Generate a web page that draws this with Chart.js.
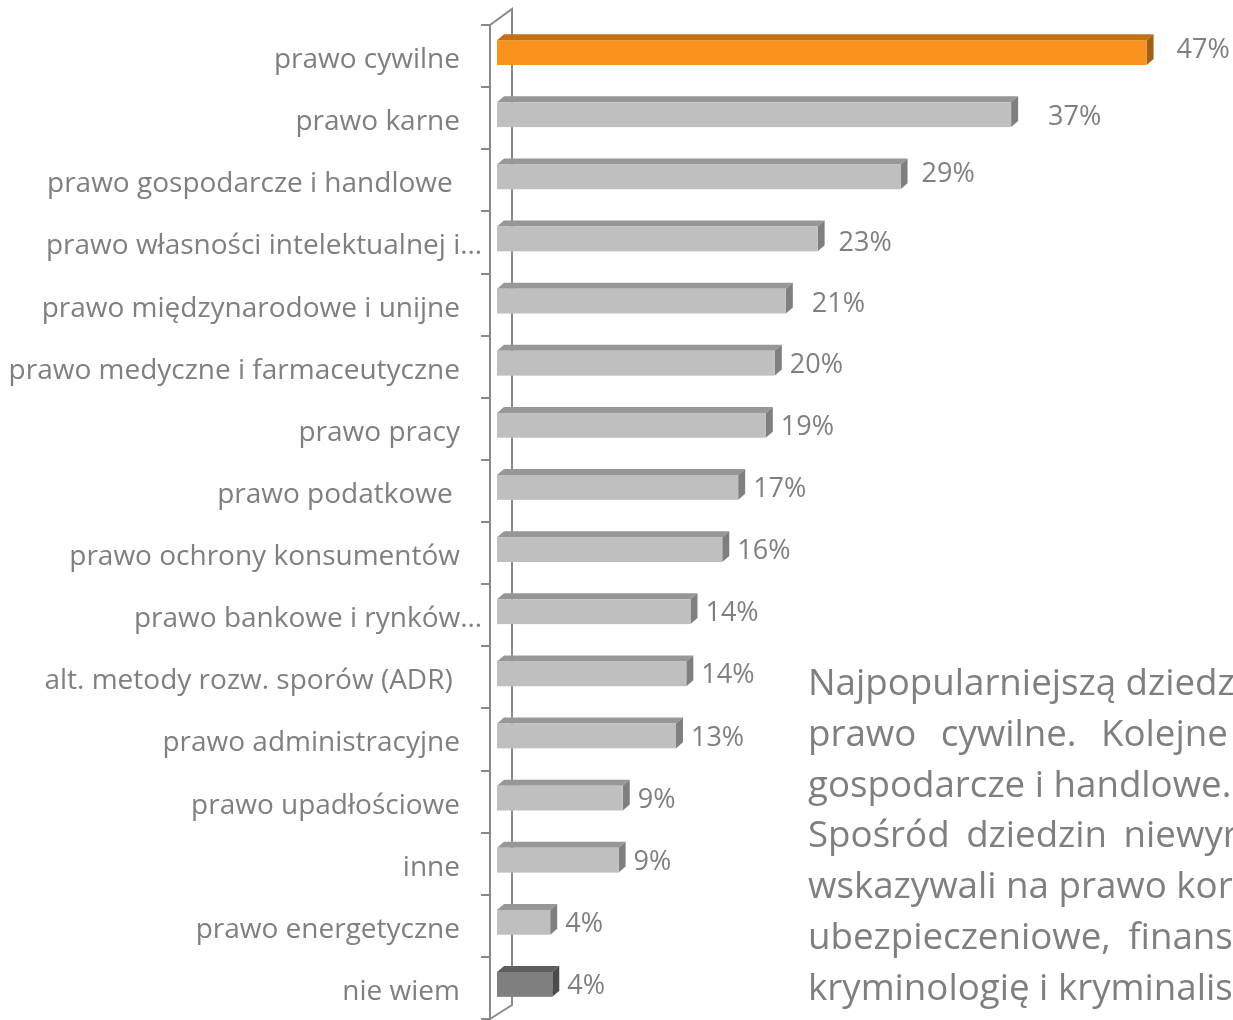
<!DOCTYPE html>
<html lang="pl">
<head>
<meta charset="utf-8">
<title>Dziedziny prawa</title>
<script src="https://cdn.jsdelivr.net/npm/chart.js@4.4.1/dist/chart.umd.min.js"></script>
<style>
  html, body { margin: 0; padding: 0; background: #fff; }
  #wrap { position: relative; width: 1233px; height: 1020px; overflow: hidden; }
  #chart { position: absolute; left: 0; top: 0; }
  #note {
    position: absolute; left: 808px; top: 656px;
    font-family: "Open Sans", sans-serif; font-size: 36.7px; line-height: 50.8px;
    color: #7f7f7f; white-space: pre;
  }
</style>
</head>
<body>
<div id="wrap">
  <canvas id="chart" width="1233" height="1020"></canvas>
  <div id="note"></div>
</div>
<script>
const categories = [
  "prawo cywilne",
  "prawo karne",
  "prawo gospodarcze i handlowe ",
  "prawo własności intelektualnej i…",
  "prawo międzynarodowe i unijne",
  "prawo medyczne i farmaceutyczne",
  "prawo pracy",
  "prawo podatkowe ",
  "prawo ochrony konsumentów",
  "prawo bankowe i rynków…",
  "alt. metody rozw. sporów (ADR) ",
  "prawo administracyjne",
  "prawo upadłościowe",
  "inne",
  "prawo energetyczne",
  "nie wiem"
];
const values = [47, 37.2, 29.2, 23.2, 20.9, 20.1, 19.45, 17.45, 16.3, 14.0, 13.7, 12.95, 9.1, 8.8, 3.85, 4.0];

// visible part of the text box on the right (it is cut by the page edge)
const noteLines = [
  "Najpopularniejszą dziedz",
  "prawo cywilne. Kolejne",
  "gospodarcze i handlowe.",
  "Spośród dziedzin niewyr",
  "wskazywali na prawo kor",
  "ubezpieczeniowe, finans",
  "kryminologię i kryminalis"
];
const noteWordSpacing = [0, 15, 0, 7, 0, 8, 0];

// hand-moved data labels in the original
const labelNudgeX = [15, 22, 6, 6, 11, 0, 0, 0, 0, 0, 0, 0, 0, 0, 0, 0];
const labelNudgeY = [-4, 1, -4.5, 2, 1, 0, 0, 0, 0, 0, 0, 0, 0, 0, 0, 0];

const textColor = "#7f7f7f";
const axisColor = "#8a8a8a";
const faces = {
  gray:   { front: "#bfbfbf", top: "#979797", side: "#7f7f7f" },
  orange: { front: "#f7931e", top: "#c27119", side: "#a35f12" },
  dark:   { front: "#7f7f7f", top: "#5e5e5e", side: "#4b4b4b" }
};
const barFaces = (i) => i === 0 ? faces.orange : (i === categories.length - 1 ? faces.dark : faces.gray);

const SHIFT_X = 7, SHIFT_Y = -3.5;  // bars stand a bit behind the front plane
const DEPTH_X = 7, DEPTH_Y = -6;    // bar depth

const note = document.getElementById("note");
noteLines.forEach((line, i) => {
  const div = document.createElement("div");
  div.textContent = line;
  div.style.wordSpacing = noteWordSpacing[i] + "px";
  note.appendChild(div);
});

function poly(ctx, pts) {
  ctx.beginPath();
  ctx.moveTo(pts[0][0], pts[0][1]);
  for (let k = 1; k < pts.length; k++) ctx.lineTo(pts[k][0], pts[k][1]);
  ctx.closePath();
  ctx.fill();
}

const frame3d = {
  id: "frame3d",
  beforeDraw(chart) {
    // labels sit a little lower; truncated ones sit closer to the axis
    chart.scales.y.getLabelItems().forEach((item, i) => {
      if (item._moved) return;
      item.options.translation[1] += 4;
      if (categories[i].endsWith("…")) item.options.translation[0] += 22;
      item._moved = true;
    });
  },
  beforeDatasetsDraw(chart) {
    const ctx = chart.ctx, a = chart.chartArea;
    ctx.save();
    ctx.strokeStyle = axisColor;
    ctx.lineWidth = 2;
    ctx.beginPath();
    ctx.moveTo(a.left, a.top);
    ctx.lineTo(a.left + 22, a.top - 16);
    ctx.lineTo(a.left + 22, a.bottom - 14);
    ctx.lineTo(a.left, a.bottom);
    ctx.stroke();
    ctx.restore();
  },
  afterDatasetsDraw(chart) {
    const ctx = chart.ctx;
    const meta = chart.getDatasetMeta(0);
    ctx.save();
    meta.data.forEach((bar, i) => {
      const p = bar.getProps(["x", "y", "base", "height"], true);
      const left = p.base + SHIFT_X, right = p.x + SHIFT_X;
      const top = p.y - p.height / 2 + SHIFT_Y, bottom = p.y + p.height / 2 + SHIFT_Y;
      const c = barFaces(i);
      ctx.fillStyle = c.top;
      poly(ctx, [[left, top], [left + DEPTH_X, top + DEPTH_Y], [right + DEPTH_X, top + DEPTH_Y], [right, top]]);
      ctx.fillStyle = c.side;
      poly(ctx, [[right, top], [right + DEPTH_X, top + DEPTH_Y], [right + DEPTH_X, bottom + DEPTH_Y], [right, bottom]]);
      ctx.fillStyle = c.front;
      ctx.fillRect(left, top, right - left, bottom - top);

      ctx.fillStyle = textColor;
      ctx.font = '27px "Open Sans"';
      ctx.textAlign = "left";
      ctx.textBaseline = "alphabetic";
      const cy = (top + bottom) / 2 + labelNudgeY[i];
      ctx.fillText(Math.round(values[i]) + "%", right + 15 + labelNudgeX[i], cy + 9.6);
    });
    ctx.restore();
  }
};

const ctx = document.getElementById("chart").getContext("2d");
new Chart(ctx, {
  type: "bar",
  data: {
    labels: categories,
    datasets: [{
      data: values,
      backgroundColor: "rgba(0,0,0,0)",
      borderWidth: 0,
      barPercentage: 0.4,
      categoryPercentage: 1
    }]
  },
  options: {
    indexAxis: "y",
    responsive: false,
    animation: false,
    events: [],
    layout: { padding: { top: 25, right: 52, bottom: 1, left: 0 } },
    plugins: { legend: { display: false }, tooltip: { enabled: false } },
    scales: {
      x: { display: false, min: 0, max: 50 },
      y: {
        afterFit(scale) {
          scale.width = 490;
          scale.paddingTop = 0;
          scale.paddingBottom = 0;
        },
        border: { display: true, color: axisColor, width: 2 },
        grid: { drawOnChartArea: false, tickLength: 9, color: axisColor, lineWidth: 2, offset: true },
        ticks: {
          autoSkip: false,
          padding: 21,
          color: textColor,
          font: { family: "Open Sans", size: 28 }
        }
      }
    }
  },
  plugins: [frame3d]
});
</script>
</body>
</html>
